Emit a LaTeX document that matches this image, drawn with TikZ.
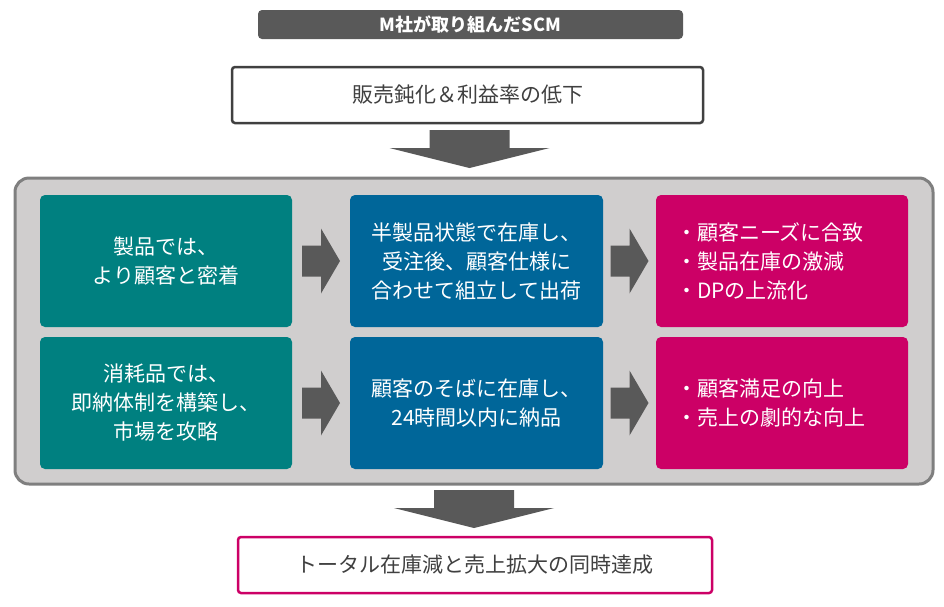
\documentclass[tikz,border=0pt]{standalone}
\usepackage{fontspec}
\usetikzlibrary{calc}
\setmainfont{Noto Sans CJK JP}
\definecolor{arrgray}{HTML}{595959}
\definecolor{txtgray}{HTML}{404040}
\definecolor{teal1}{HTML}{008080}
\definecolor{blue1}{HTML}{006699}
\definecolor{mag1}{HTML}{CC0066}
\definecolor{panel}{HTML}{D0CECE}
\definecolor{panelline}{HTML}{7F7F7F}
\newcommand\rightblock[1]{\fill[arrgray, shift={(#1)}] (-19,-15.5) -- (0,-15.5) -- (0,-32.5) -- (19,0) -- (0,32.5) -- (0,15.5) -- (-19,15.5) -- cycle;}
\newcommand\downblock[1]{\fill[arrgray, shift={(#1)}] (-40,0) -- (40,0) -- (40,18) -- (80,18) -- (0,38) -- (-80,18) -- (-40,18) -- cycle;}
\begin{document}
\begin{tikzpicture}[x=1pt,y=-1pt,
  txt/.style={font=\fontsize{21}{29}\selectfont, align=center, inner sep=0pt},
  colbox/.style={txt, text=white, minimum width=252pt, minimum height=132pt, rounded corners=5pt},
  magbox/.style={colbox, fill=mag1, align=left, text width=212pt, inner xsep=20pt},
  whitebox/.style={txt, text=txtgray, fill=white, minimum height=56pt, rounded corners=3pt, line width=2.5pt}
]
\useasboundingbox (0,0) rectangle (944,606);
% title
\node[fill=arrgray, rounded corners=4pt, minimum width=425pt, minimum height=29pt, inner sep=0pt,
  text=white, font=\fontsize{18}{20}\selectfont\bfseries] (title) at (470.5,24.5) {M社が取り組んだSCM};
% top box
\node[whitebox, draw=txtgray, minimum width=471pt] (top) at (467.5,95) {販売鈍化＆利益率の低下};
\downblock{469.5,130}
% panel
\node[fill=panel, draw=panelline, line width=3pt, rounded corners=14pt, minimum width=918pt, minimum height=306pt, inner sep=0pt] (panel) at (474,331) {};
% row 1
\node[colbox, fill=teal1] (t1) at (166,261) {製品では、\\より顧客と密着};
\node[colbox, fill=blue1, minimum width=253pt] (b1) at (476.5,261) {半製品状態で在庫し、\\受注後、顧客仕様に\\合わせて組立して出荷};
\node[magbox] (m1) at (782,261) {・顧客ニーズに合致\\・製品在庫の激減\\・DPの上流化};
% row 2
\node[colbox, fill=teal1] (t2) at (166,403) {消耗品では、\\即納体制を構築し、\\市場を攻略};
\node[colbox, fill=blue1, minimum width=253pt] (b2) at (476.5,403) {顧客のそばに在庫し、\\24時間以内に納品};
\node[magbox] (m2) at (782,403) {・顧客満足の向上\\・売上の劇的な向上};
% arrows
\rightblock{$(t1.east)!0.5!(b1.west)$}
\rightblock{$(b1.east)!0.5!(m1.west)$}
\rightblock{$(t2.east)!0.5!(b2.west)$}
\rightblock{$(b2.east)!0.5!(m2.west)$}
\downblock{474,490}
% bottom box
\node[whitebox, draw=mag1, minimum width=474pt] (bottom) at (475,565) {トータル在庫減と売上拡大の同時達成};
\end{tikzpicture}
\end{document}
